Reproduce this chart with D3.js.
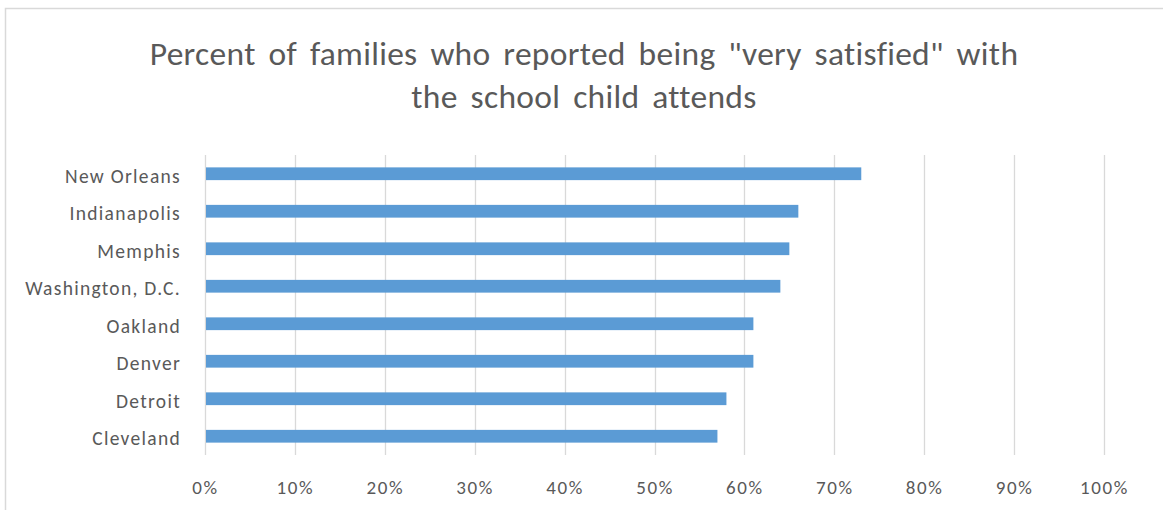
<!DOCTYPE html>
<html>
<head>
<meta charset="utf-8">
<script src="https://cdn.jsdelivr.net/npm/d3@7"></script>
<style>
  html, body { margin: 0; padding: 0; background: #fff; }
  svg { display: block; }
  text { font-family: Carlito, Calibri, Lato, "Open Sans", sans-serif; fill: #595959; }
</style>
</head>
<body>
<svg id="chart" width="1163" height="510"></svg>
<script>
// Survey results: share of families "very satisfied" with their child's school
const cities = ["New Orleans", "Indianapolis", "Memphis", "Washington, D.C.",
                "Oakland", "Denver", "Detroit", "Cleveland"];
const verySatisfied = [0.73, 0.66, 0.65, 0.64, 0.61, 0.61, 0.58, 0.57];
const tickValues = [0, 0.1, 0.2, 0.3, 0.4, 0.5, 0.6, 0.7, 0.8, 0.9, 1.0];
const titleLines = ["Percent of families who reported being \"very satisfied\" with",
                    "the school child attends"];

const svg = d3.select("#chart");
const W = 1163, H = 510;
const plot = { left: 205, right: 1104, top: 155, bottom: 455 };
const fontStack = "Carlito, Calibri, Lato, 'Open Sans', sans-serif";

// chart frame
svg.append("rect")
  .attr("x", 5.5).attr("y", 8.5)
  .attr("width", W + 10).attr("height", H + 10)
  .attr("fill", "#fff").attr("stroke", "#d9d9d9").attr("stroke-width", 1.5);

const x = d3.scaleLinear().domain([0, 1]).range([plot.left, plot.right]);
const y = d3.scaleBand().domain(cities)
  .range([plot.top, plot.bottom])
  .paddingInner(0.66).paddingOuter(0.33);

// vertical gridlines
svg.append("g")
  .selectAll("line").data(tickValues).join("line")
  .attr("x1", d => Math.round(x(d)) + 0.5).attr("x2", d => Math.round(x(d)) + 0.5)
  .attr("y1", plot.top).attr("y2", plot.bottom)
  .attr("stroke", "#d9d9d9").attr("stroke-width", 1.3);

// bottom axis labels
const xAxis = d3.axisBottom(x).tickValues(tickValues)
  .tickFormat(d3.format(".0%")).tickSize(0).tickPadding(0);
const gx = svg.append("g").attr("transform", `translate(0,${plot.bottom + 25})`).call(xAxis);
gx.select(".domain").remove();
gx.selectAll("text").attr("font-size", 19).attr("fill", "#595959")
  .attr("letter-spacing", 1.6)
  .style("font-family", fontStack);

// left category labels
const yAxis = d3.axisLeft(y).tickSize(0).tickPadding(24);
const gy = svg.append("g").attr("transform", `translate(${plot.left},2.5)`).call(yAxis);
gy.select(".domain").remove();
gy.selectAll("text").attr("font-size", 19.5).attr("fill", "#595959")
  .attr("letter-spacing", 1.3)
  .style("font-family", fontStack);

// bars
svg.append("g")
  .selectAll("rect").data(cities).join("rect")
  .attr("x", x(0) + 1)
  .attr("y", d => y(d))
  .attr("width", (d, i) => x(verySatisfied[i]) - x(0) - 1)
  .attr("height", y.bandwidth())
  .attr("fill", "#5b9bd5");

// title
svg.append("g")
  .selectAll("text").data(titleLines).join("text")
  .attr("x", 584)
  .attr("y", (d, i) => 65 + i * 43)
  .attr("text-anchor", "middle")
  .attr("font-size", 33.5)
  .attr("word-spacing", 5)
  .attr("letter-spacing", 0.3)
  .text(d => d);
</script>
</body>
</html>
